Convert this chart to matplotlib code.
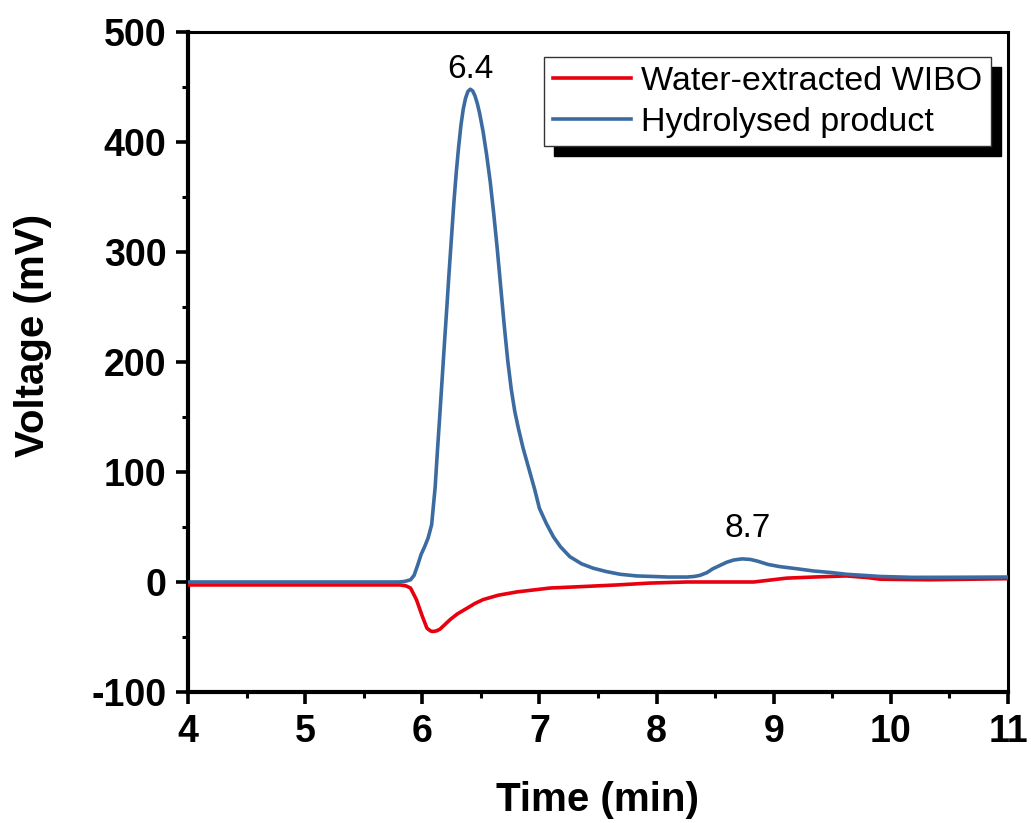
import matplotlib
matplotlib.use('Agg')
import matplotlib.pyplot as plt
from matplotlib.ticker import MultipleLocator

plt.rcParams['font.family'] = ['Liberation Sans', 'DejaVu Sans']
plt.rcParams['axes.unicode_minus'] = False

#-- Hydrolysed product (blue trace)
t_hyd = [4.0, 5.0, 5.8, 5.85, 5.9, 5.93, 5.96, 5.99, 6.02, 6.05, 6.08, 6.11, 6.13,
         6.15, 6.17, 6.19, 6.21, 6.23, 6.25, 6.27, 6.29, 6.31, 6.33, 6.35, 6.37,
         6.39, 6.41, 6.43, 6.45, 6.47, 6.49, 6.52, 6.55, 6.58, 6.61, 6.64, 6.67,
         6.70, 6.73, 6.76, 6.79, 6.82, 6.86, 6.91, 6.96, 7.0, 7.06, 7.12, 7.18,
         7.26, 7.36, 7.46, 7.57, 7.69, 7.83, 7.97, 8.1, 8.26, 8.32, 8.37, 8.43,
         8.48, 8.54, 8.6, 8.66, 8.73, 8.8, 8.86, 8.95, 9.05, 9.2, 9.34, 9.5,
         9.62, 9.8, 9.91, 10.19, 10.6, 11.0]
v_hyd = [0.0, 0.0, 0.0, 0.5, 2.0, 6.0, 15.0, 25.0, 32.0, 40.0, 52.0, 86.0, 120.0,
         152.0, 185.0, 218.0, 250.0, 283.0, 314.0, 345.0, 372.0, 395.0, 415.0, 430.0, 440.0,
         446.0, 448.0, 446.5, 442.0, 435.0, 426.0, 409.0, 388.0, 364.0, 335.0, 303.0, 268.0,
         233.0, 201.0, 175.0, 155.0, 140.0, 122.0, 103.0, 84.0, 67.0, 53.0, 41.0, 32.0,
         23.0, 16.5, 12.5, 9.5, 7.0, 5.5, 5.0, 4.5, 4.5, 5.0, 6.0, 8.5,
         12.0, 15.0, 18.0, 20.0, 21.0, 20.5, 19.0, 16.0, 14.0, 12.0, 10.0, 8.5,
         7.0, 5.8, 5.0, 4.2, 4.3, 4.5]

#-- Water-extracted WIBO (red trace)
t_wat = [4.0, 5.0, 5.81, 5.86, 5.9, 5.95, 6.0, 6.04, 6.07, 6.09, 6.12, 6.15, 6.2,
         6.24, 6.3, 6.38, 6.45, 6.52, 6.65, 6.81, 7.09, 7.4, 7.66, 7.94, 8.26,
         8.83, 9.11, 9.34, 9.62, 9.8, 9.91, 10.33, 11.0]
v_wat = [-2.7, -2.7, -2.7, -3.5, -5.5, -16.0, -31.0, -42.0, -44.5, -45.0, -44.5, -43.0, -38.0,
         -34.0, -29.0, -24.0, -19.5, -16.0, -12.0, -9.0, -5.5, -4.0, -2.7, -1.0, 0.0,
         0.0, 3.5, 4.5, 5.5, 4.0, 2.5, 2.0, 3.0]

peak_labels = ['6.4', '8.7']
peak_pos = [(6.41, 466), (8.78, 49)]

red = '#e8000e'
blue = '#3b6ba0'

fig = plt.figure(figsize=(10.31, 8.23), dpi=100)
ax = fig.add_axes([0.1823, 0.1592, 0.7954, 0.8019])

ax.plot(t_wat, v_wat, color=red, lw=2.6, label='Water-extracted WIBO', zorder=3)
ax.plot(t_hyd, v_hyd, color=blue, lw=2.6, label='Hydrolysed product', zorder=4)

for lab, (px, py) in zip(peak_labels, peak_pos):
    ax.text(px, py, lab, ha='center', va='center', fontsize=24)

ax.set_xlim(4, 11)
ax.set_ylim(-100, 500)
ax.xaxis.set_major_locator(MultipleLocator(1))
ax.xaxis.set_minor_locator(MultipleLocator(0.5))
ax.yaxis.set_major_locator(MultipleLocator(100))
ax.yaxis.set_minor_locator(MultipleLocator(50))

for side in ['left', 'bottom']:
    ax.spines[side].set_linewidth(3.0)
for side in ['top', 'right']:
    ax.spines[side].set_linewidth(2.2)

ax.tick_params(which='major', direction='out', length=8.5, width=2.6, pad=7,
               labelsize=27, top=False, right=False)
ax.tick_params(which='minor', direction='out', length=4.5, width=2.2,
               top=False, right=False)
for lbl in ax.get_xticklabels() + ax.get_yticklabels():
    lbl.set_fontweight('bold')

ax.set_xlabel('Time (min)', fontsize=29, fontweight='bold', labelpad=23)
ax.set_ylabel('Voltage (mV)', fontsize=29, fontweight='bold')
ax.yaxis.set_label_coords(-0.166, 0.541)

leg = ax.legend(loc='upper right', bbox_to_anchor=(0.979, 0.962), borderaxespad=0,
                fontsize=24.5, fancybox=False, frameon=True, handlelength=2.3,
                handletextpad=0.3, borderpad=0.25, labelspacing=0.3,
                shadow={'ox': 7, 'oy': -7, 'color': 'black', 'alpha': 1})
leg.get_frame().set_edgecolor('#333333')
leg.get_frame().set_linewidth(1.0)
for line in leg.get_lines():
    line.set_linewidth(2.6)

plt.savefig('out.png', dpi=100)
